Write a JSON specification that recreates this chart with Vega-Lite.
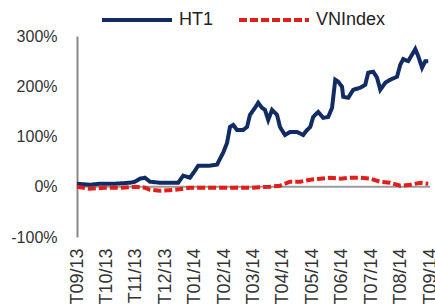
{
  "$schema": "https://vega.github.io/schema/vega-lite/v6.json",
  "autosize": "none",
  "width": 353,
  "height": 201,
  "padding": {"left": 77, "top": 36, "right": 5, "bottom": 67},
  "background": "white",
  "config": {
    "view": {"stroke": null},
    "font": "Liberation Sans",
    "axis": {"labelFont": "Liberation Sans", "labelColor": "#333333", "grid": false, "ticks": false, "title": null}
  },
  "datasets": {
    "series": [
      {"t": 0, "v": 6, "s": "HT1"},
      {"t": 0.44, "v": 4, "s": "HT1"},
      {"t": 0.78, "v": 6, "s": "HT1"},
      {"t": 1.29, "v": 6, "s": "HT1"},
      {"t": 1.8, "v": 8, "s": "HT1"},
      {"t": 1.97, "v": 10, "s": "HT1"},
      {"t": 2.14, "v": 16, "s": "HT1"},
      {"t": 2.31, "v": 18, "s": "HT1"},
      {"t": 2.48, "v": 10, "s": "HT1"},
      {"t": 2.82, "v": 8, "s": "HT1"},
      {"t": 3.16, "v": 8, "s": "HT1"},
      {"t": 3.44, "v": 8, "s": "HT1"},
      {"t": 3.61, "v": 22, "s": "HT1"},
      {"t": 3.84, "v": 18, "s": "HT1"},
      {"t": 4.01, "v": 32, "s": "HT1"},
      {"t": 4.12, "v": 42, "s": "HT1"},
      {"t": 4.52, "v": 42, "s": "HT1"},
      {"t": 4.76, "v": 44, "s": "HT1"},
      {"t": 4.97, "v": 68, "s": "HT1"},
      {"t": 5.1, "v": 87, "s": "HT1"},
      {"t": 5.2, "v": 119, "s": "HT1"},
      {"t": 5.31, "v": 123, "s": "HT1"},
      {"t": 5.44, "v": 113, "s": "HT1"},
      {"t": 5.65, "v": 113, "s": "HT1"},
      {"t": 5.78, "v": 119, "s": "HT1"},
      {"t": 5.88, "v": 143, "s": "HT1"},
      {"t": 6.05, "v": 157, "s": "HT1"},
      {"t": 6.16, "v": 167, "s": "HT1"},
      {"t": 6.29, "v": 157, "s": "HT1"},
      {"t": 6.39, "v": 153, "s": "HT1"},
      {"t": 6.5, "v": 133, "s": "HT1"},
      {"t": 6.63, "v": 153, "s": "HT1"},
      {"t": 6.8, "v": 143, "s": "HT1"},
      {"t": 6.9, "v": 119, "s": "HT1"},
      {"t": 7.07, "v": 103, "s": "HT1"},
      {"t": 7.24, "v": 109, "s": "HT1"},
      {"t": 7.48, "v": 109, "s": "HT1"},
      {"t": 7.69, "v": 103, "s": "HT1"},
      {"t": 7.79, "v": 111, "s": "HT1"},
      {"t": 7.93, "v": 119, "s": "HT1"},
      {"t": 8.03, "v": 139, "s": "HT1"},
      {"t": 8.2, "v": 149, "s": "HT1"},
      {"t": 8.37, "v": 137, "s": "HT1"},
      {"t": 8.54, "v": 139, "s": "HT1"},
      {"t": 8.67, "v": 157, "s": "HT1"},
      {"t": 8.78, "v": 213, "s": "HT1"},
      {"t": 8.88, "v": 209, "s": "HT1"},
      {"t": 9.01, "v": 199, "s": "HT1"},
      {"t": 9.05, "v": 179, "s": "HT1"},
      {"t": 9.22, "v": 177, "s": "HT1"},
      {"t": 9.39, "v": 193, "s": "HT1"},
      {"t": 9.63, "v": 197, "s": "HT1"},
      {"t": 9.8, "v": 203, "s": "HT1"},
      {"t": 9.9, "v": 227, "s": "HT1"},
      {"t": 10.07, "v": 229, "s": "HT1"},
      {"t": 10.2, "v": 217, "s": "HT1"},
      {"t": 10.31, "v": 193, "s": "HT1"},
      {"t": 10.48, "v": 207, "s": "HT1"},
      {"t": 10.65, "v": 213, "s": "HT1"},
      {"t": 10.88, "v": 219, "s": "HT1"},
      {"t": 10.99, "v": 243, "s": "HT1"},
      {"t": 11.09, "v": 254, "s": "HT1"},
      {"t": 11.26, "v": 250, "s": "HT1"},
      {"t": 11.5, "v": 274, "s": "HT1"},
      {"t": 11.6, "v": 260, "s": "HT1"},
      {"t": 11.73, "v": 237, "s": "HT1"},
      {"t": 11.84, "v": 250, "s": "HT1"},
      {"t": 11.94, "v": 250, "s": "HT1"},
      {"t": 0, "v": 0, "s": "VNIndex"},
      {"t": 0.44, "v": -4, "s": "VNIndex"},
      {"t": 0.95, "v": -2, "s": "VNIndex"},
      {"t": 1.46, "v": -2, "s": "VNIndex"},
      {"t": 1.97, "v": 0, "s": "VNIndex"},
      {"t": 2.31, "v": -2, "s": "VNIndex"},
      {"t": 2.48, "v": -6, "s": "VNIndex"},
      {"t": 2.82, "v": -8, "s": "VNIndex"},
      {"t": 3.33, "v": -6, "s": "VNIndex"},
      {"t": 3.84, "v": -2, "s": "VNIndex"},
      {"t": 4.52, "v": -2, "s": "VNIndex"},
      {"t": 5.2, "v": -2, "s": "VNIndex"},
      {"t": 5.88, "v": -2, "s": "VNIndex"},
      {"t": 6.56, "v": 0, "s": "VNIndex"},
      {"t": 6.9, "v": 2, "s": "VNIndex"},
      {"t": 7.24, "v": 10, "s": "VNIndex"},
      {"t": 7.59, "v": 10, "s": "VNIndex"},
      {"t": 7.93, "v": 14, "s": "VNIndex"},
      {"t": 8.27, "v": 16, "s": "VNIndex"},
      {"t": 8.61, "v": 18, "s": "VNIndex"},
      {"t": 8.95, "v": 16, "s": "VNIndex"},
      {"t": 9.29, "v": 18, "s": "VNIndex"},
      {"t": 9.63, "v": 18, "s": "VNIndex"},
      {"t": 9.97, "v": 16, "s": "VNIndex"},
      {"t": 10.31, "v": 10, "s": "VNIndex"},
      {"t": 10.65, "v": 8, "s": "VNIndex"},
      {"t": 10.99, "v": 2, "s": "VNIndex"},
      {"t": 11.33, "v": 4, "s": "VNIndex"},
      {"t": 11.67, "v": 8, "s": "VNIndex"},
      {"t": 11.94, "v": 6, "s": "VNIndex"}
    ],
    "zero": [{"y": 0}]
  },
  "layer": [
    {
      "data": {"name": "zero"},
      "mark": {"type": "rule", "color": "#9a9a9a", "strokeWidth": 2},
      "encoding": {"y": {"field": "y", "type": "quantitative"}}
    },
    {
      "data": {"name": "series"},
      "mark": {"type": "line", "strokeWidth": 4, "interpolate": "linear"},
      "encoding": {
        "x": {
          "field": "t", "type": "quantitative",
          "scale": {"domain": [0, 12], "nice": false, "zero": false},
          "axis": {
            "values": [0,1,2,3,4,5,6,7,8,9,10,11,12],
            "labelExpr": "['T09/13','T10/13','T11/13','T12/13','T01/14','T02/14','T03/14','T04/14','T05/14','T06/14','T07/14','T08/14','T09/14'][datum.value]",
            "labelAngle": -90,
            "labelFontSize": 18,
            "labelPadding": 11,
            "domain": false,
            "labelFlush": false,
            "labelOverlap": false,
            "labelBound": false
          }
        },
        "y": {
          "field": "v", "type": "quantitative",
          "scale": {"domain": [-100, 300], "nice": false},
          "axis": {
            "values": [-100, 0, 100, 200, 300],
            "labelExpr": "datum.value + '%'",
            "labelFontSize": 16,
            "labelPadding": 20,
            "domainColor": "#888888",
            "domainWidth": 2,
            "labelFlush": false
          }
        },
        "color": {
          "field": "s", "type": "nominal",
          "scale": {"domain": ["HT1", "VNIndex"], "range": ["#112C64", "#E01F1B"]},
          "legend": {
            "title": null,
            "orient": "none",
            "legendX": 23,
            "legendY": -53,
            "direction": "horizontal",
            "symbolType": "M-1,0H1",
            "symbolSize": 4900,
            "symbolStrokeWidth": 4,
            "labelFont": "Liberation Sans",
            "labelFontSize": 18,
            "labelColor": "#222222",
            "labelOffset": 5,
            "columnPadding": 17,
            "padding": 0
          }
        },
        "strokeDash": {
          "field": "s", "type": "nominal",
          "scale": {"domain": ["HT1", "VNIndex"], "range": [[1, 0], [8, 3]]},
          "legend": null
        }
      }
    }
  ]
}
